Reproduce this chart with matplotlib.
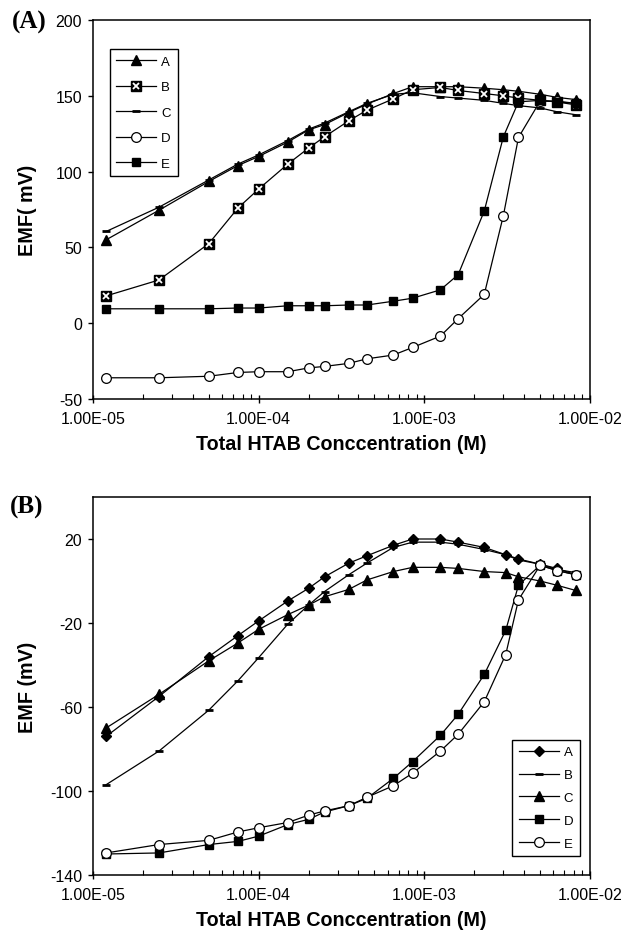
import matplotlib
matplotlib.use("Agg")
import matplotlib.pyplot as plt
from matplotlib.ticker import LogLocator, FuncFormatter, NullFormatter

plt.rcParams['font.family'] = ['Liberation Sans', 'DejaVu Sans']
plt.rcParams['axes.unicode_minus'] = False

# total HTAB concentration (M)
conc_a = [1.2e-5, 2.5e-5, 5e-5, 7.5e-5, 1e-4, 1.5e-4, 2e-4, 2.5e-4, 3.5e-4, 4.5e-4,
          6.5e-4, 8.5e-4, 1.25e-3, 1.6e-3, 2.3e-3, 3e-3, 3.7e-3, 5e-3, 6.3e-3, 8.2e-3]
conc_b = [1.2e-5, 2.5e-5, 5e-5, 7.5e-5, 1e-4, 1.5e-4, 2e-4, 2.5e-4, 3.5e-4, 4.5e-4,
          6.5e-4, 8.5e-4, 1.25e-3, 1.6e-3, 2.3e-3, 3.1e-3, 3.7e-3, 5e-3, 6.3e-3, 8.2e-3]

# panel (A), EMF in mV
emf_a_A = [55, 74.5, 93.5, 104, 110, 119.5, 127.5, 131, 139, 144.5,
           151.5, 156, 156, 156, 155, 154, 153, 151, 149, 147.5]
emf_a_B = [18, 28.5, 52.5, 76, 88.5, 105, 115.5, 123, 133.5, 140.5,
           148, 154, 155.5, 153.5, 151.5, 150, 148.5, 147, 146, 144]
emf_a_C = [60.5, 76.5, 94.5, 105, 111, 120.5, 128, 132, 139.5, 145,
           151, 152, 149.5, 148.5, 147, 145, 143.5, 142, 139.5, 137.5]
emf_a_D = [-36, -36, -35, -32.5, -32, -32, -29.5, -28.5, -26.5, -23.5,
           -21, -16, -8.5, 3, 19, 71, 122.5, 146.5, 146.5, 145]
emf_a_E = [9.5, 9.5, 9.5, 10, 10, 11.5, 11.5, 11.5, 12, 12,
           14.5, 16.5, 22, 32, 74, 123, 146, 147, 146, 145]

# panel (B), EMF in mV
emf_b_A = [-74, -55, -36, -26, -19, -9.5, -3.5, 2, 8.5, 12,
           17, 20, 20, 18.5, 16, 12.5, 10.5, 8, 6, 3]
emf_b_B = [-97, -81, -61.5, -47.5, -36.5, -20.5, -11.5, -5, 3, 8.5,
           16, 18.5, 18.5, 17.5, 15, 12.5, 10, 8, 5.5, 4]
emf_b_C = [-70, -54, -38, -29.5, -23, -16, -11.5, -7.5, -4, 0.5,
           4.5, 6.5, 6.5, 6, 4.5, 4, 2, 0, -2, -4.5]
emf_b_D = [-130, -129.5, -125.5, -124, -121.5, -116, -113.5, -110, -107, -103.5,
           -94, -86, -73.5, -63.5, -44.5, -23.5, -2, 7.5, 5, 3]
emf_b_E = [-129.5, -125.5, -123.5, -119.5, -117.5, -115, -111.5, -109.5, -107, -103,
           -97.5, -91.5, -81, -73, -57.5, -35, -9, 7.5, 5, 3]

labels = ["A", "B", "C", "D", "E"]


def style_axis(ax, ylim, yticks, ylabel, xlabel_y):
    ax.set_xscale('log')
    ax.set_xlim(1e-5, 1e-2)
    ax.set_ylim(*ylim)
    ax.set_yticks(yticks)
    ax.xaxis.set_major_locator(LogLocator(base=10, numticks=10))
    ax.xaxis.set_minor_locator(LogLocator(base=10, subs=range(2, 10), numticks=10))
    ax.xaxis.set_major_formatter(FuncFormatter(lambda v, p: f"{v:.2E}"))
    ax.xaxis.set_minor_formatter(NullFormatter())
    ax.tick_params(axis='x', which='major', direction='inout', length=6, width=1,
                   pad=6, labelsize=11.5)
    ax.tick_params(axis='x', which='minor', direction='in', length=3.5, width=0.8)
    ax.tick_params(axis='y', direction='out', length=3.6, width=1, pad=4.3, labelsize=11.5)
    for s in ax.spines.values():
        s.set_linewidth(1.1)
    ax.set_ylabel(ylabel, fontsize=14.2, fontweight='bold')
    ax.yaxis.set_label_coords(-0.113, 0.5)
    ax.set_xlabel("Total HTAB Conccentration (M)", fontsize=14.2, fontweight='bold')
    ax.xaxis.set_label_coords(0.5, xlabel_y)


fig = plt.figure(figsize=(6.27, 9.37), dpi=100)
axA = fig.add_axes([93 / 627, 1 - 400 / 937, 497 / 627, 379 / 937])
axB = fig.add_axes([93 / 627, 1 - 876 / 937, 497 / 627, 378 / 937])

lw = 0.9
kw = dict(color='black', lw=lw)

# panel A
hA = axA.plot(conc_a, emf_a_A, marker='^', ms=7, mfc='black', mec='black', **kw)[0]
hB_sq = axA.plot(conc_a, emf_a_B, marker='s', ms=7, mfc='black', mec='black', **kw)[0]
hB_x = axA.plot(conc_a, emf_a_B, ls='none', marker='x', ms=4, mec='white', mew=1.3)[0]
hC = axA.plot(conc_a, emf_a_C, marker='_', ms=6, mew=2, mec='black', **kw)[0]
hD = axA.plot(conc_a, emf_a_D, marker='o', ms=7, mfc='white', mec='black', mew=0.9, **kw)[0]
hE = axA.plot(conc_a, emf_a_E, marker='s', ms=6, mfc='black', mec='black', **kw)[0]

style_axis(axA, (-50, 200), [-50, 0, 50, 100, 150, 200], "EMF( mV)", -0.092)
legA = axA.legend([hA, (hB_sq, hB_x), hC, hD, hE], labels, loc='upper left',
                  bbox_to_anchor=(0.034, 0.923), borderaxespad=0, fontsize=9.5,
                  handlelength=3.0, handletextpad=0.4, labelspacing=1.0,
                  borderpad=0.5, fancybox=False, framealpha=1, edgecolor='black')
legA.get_frame().set_linewidth(1)

# panel B
axB.plot(conc_b, emf_b_A, marker='D', ms=5.5, mfc='black', mec='black', label="A", **kw)
axB.plot(conc_b, emf_b_B, marker='_', ms=6, mew=2, mec='black', label="B", **kw)
axB.plot(conc_b, emf_b_C, marker='^', ms=7, mfc='black', mec='black', label="C", **kw)
axB.plot(conc_b, emf_b_D, marker='s', ms=6, mfc='black', mec='black', label="D", **kw)
axB.plot(conc_b, emf_b_E, marker='o', ms=7, mfc='white', mec='black', mew=0.9, label="E", **kw)

style_axis(axB, (-140, 40), [-140, -100, -60, -20, 20], "EMF (mV)", -0.0926)
legB = axB.legend(loc='lower right', bbox_to_anchor=(0.98, 0.05), borderaxespad=0,
                  fontsize=9.5, handlelength=3.0, handletextpad=0.4, labelspacing=0.8,
                  borderpad=0.5, fancybox=False, framealpha=1, edgecolor='black')
legB.get_frame().set_linewidth(1)

fig.text(12 / 627, 1 - 22 / 937, "(A)", fontfamily='Liberation Serif', fontweight='bold',
         fontsize=18, va='center', ha='left')
fig.text(10 / 627, 1 - 507 / 937, "(B)", fontfamily='Liberation Serif', fontweight='bold',
         fontsize=18, va='center', ha='left')

fig.savefig('out.png', dpi=100)
plt.close(fig)
